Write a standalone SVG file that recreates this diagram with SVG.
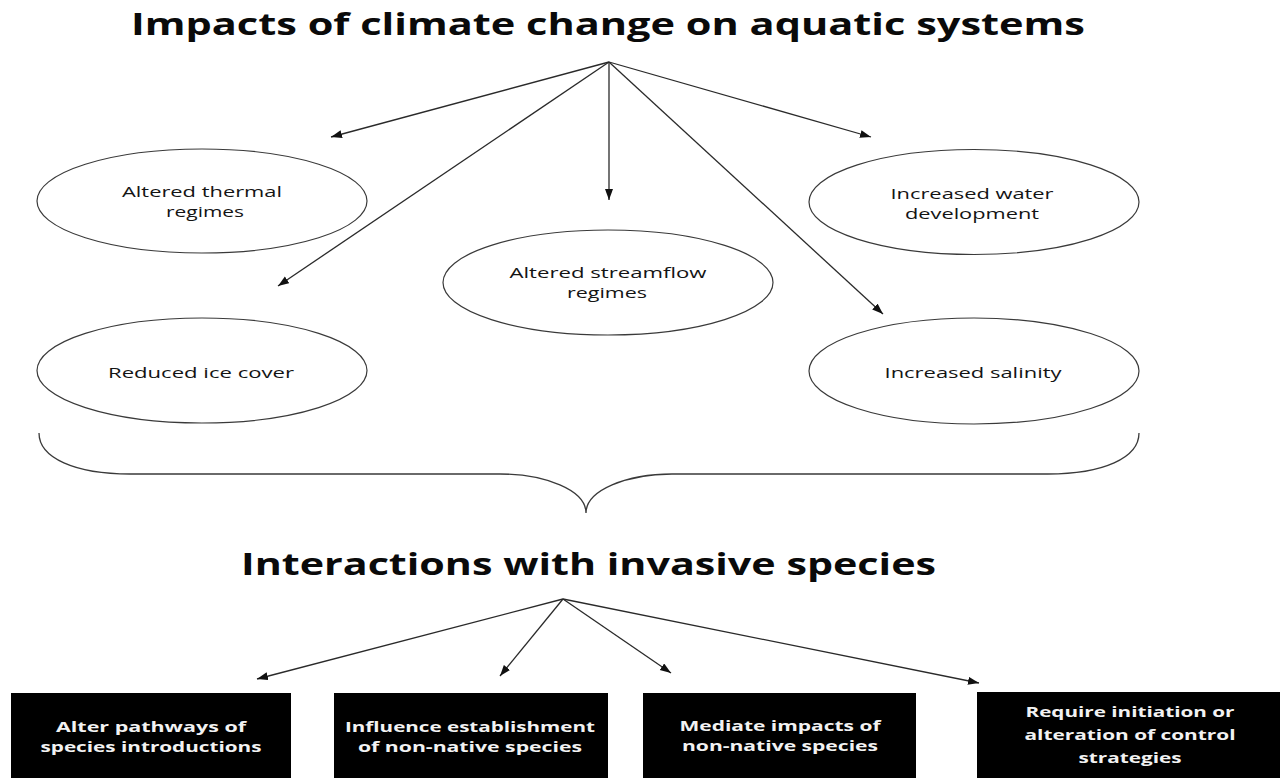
<svg xmlns="http://www.w3.org/2000/svg" width="1280" height="778" viewBox="0 0 1280 778">
<defs>
<style>
.title{font-family:"Open Sans","Liberation Sans",sans-serif;font-weight:bold;font-size:31px;fill:#0a0a0a}
.lbl{font-family:"Open Sans","DejaVu Sans",sans-serif;font-size:15px;fill:#141414;text-anchor:middle}
.blbl{font-family:"Open Sans","Liberation Sans",sans-serif;font-weight:bold;font-size:14.5px;fill:#f2f2f2;text-anchor:middle}
.ell{fill:#fff;stroke:#3a3a3a;stroke-width:1.2}
.box{fill:#000}
.con{stroke:#2a2a2a;stroke-width:1.3;fill:none;marker-end:url(#ah)}
.brace{stroke:#3a3a3a;stroke-width:1.3;fill:none}
</style>
<marker id="ah" markerUnits="userSpaceOnUse" markerWidth="12" markerHeight="9" refX="11" refY="4" orient="auto">
<path d="M0,0 L11,4 L0,8 z" fill="#111"/>
</marker>
</defs>
<rect width="1280" height="778" fill="#fff"/>

<text id="title1" class="title" x="131" y="35" textLength="954" lengthAdjust="spacingAndGlyphs">Impacts of climate change on aquatic systems</text>

<g id="connectors">
<line class="con" x1="609" y1="62" x2="331" y2="137"/>
<line class="con" x1="609" y1="62" x2="278" y2="286"/>
<line class="con" x1="609" y1="62" x2="609" y2="200"/>
<line class="con" x1="609" y1="62" x2="871" y2="137"/>
<line class="con" x1="609" y1="62" x2="883" y2="314"/>
<line class="con" x1="563" y1="599" x2="257" y2="679"/>
<line class="con" x1="563" y1="599" x2="500" y2="676"/>
<line class="con" x1="563" y1="599" x2="671" y2="673"/>
<line class="con" x1="563" y1="599" x2="979" y2="683"/>
<path class="brace" d="M39 433 C39 458 75 474 130 474 L500 474 C545 474 586 490 586 513 C586 490 627 474 672 474 L1048 474 C1103 474 1139 458 1139 433"/>
</g>

<g id="thermal">
<ellipse class="ell" cx="202" cy="201" rx="165" ry="52"/>
<text class="lbl" x="202" y="197" textLength="160" lengthAdjust="spacingAndGlyphs">Altered thermal</text>
<text class="lbl" x="205" y="217" textLength="78" lengthAdjust="spacingAndGlyphs">regimes</text>
</g>

<g id="water">
<ellipse class="ell" cx="974" cy="202" rx="165" ry="52.5"/>
<text class="lbl" x="972" y="199" textLength="163" lengthAdjust="spacingAndGlyphs">Increased water</text>
<text class="lbl" x="972" y="219" textLength="134" lengthAdjust="spacingAndGlyphs">development</text>
</g>

<g id="streamflow">
<ellipse class="ell" cx="608" cy="282.5" rx="165" ry="52.5"/>
<text class="lbl" x="608" y="278" textLength="197" lengthAdjust="spacingAndGlyphs">Altered streamflow</text>
<text class="lbl" x="607" y="298" textLength="80" lengthAdjust="spacingAndGlyphs">regimes</text>
</g>

<g id="ice">
<ellipse class="ell" cx="202" cy="370.5" rx="165" ry="52.5"/>
<text class="lbl" x="201" y="378" textLength="186" lengthAdjust="spacingAndGlyphs">Reduced ice cover</text>
</g>

<g id="salinity">
<ellipse class="ell" cx="974" cy="371" rx="165" ry="53"/>
<text class="lbl" x="973" y="378" textLength="177" lengthAdjust="spacingAndGlyphs">Increased salinity</text>
</g>

<text id="title2" class="title" x="241" y="575" textLength="695" lengthAdjust="spacingAndGlyphs">Interactions with invasive species</text>

<g id="pathways">
<rect class="box" x="11" y="693" width="280" height="90"/>
<text class="blbl" x="151" y="732" textLength="190" lengthAdjust="spacingAndGlyphs">Alter pathways of</text>
<text class="blbl" x="151" y="752" textLength="221" lengthAdjust="spacingAndGlyphs">species introductions</text>
</g>

<g id="establishment">
<rect class="box" x="334" y="693" width="274" height="90"/>
<text class="blbl" x="470" y="732" textLength="250" lengthAdjust="spacingAndGlyphs">Influence establishment</text>
<text class="blbl" x="470" y="752" textLength="224" lengthAdjust="spacingAndGlyphs">of non-native species</text>
</g>

<g id="mediate">
<rect class="box" x="643" y="693" width="273" height="90"/>
<text class="blbl" x="780" y="731" textLength="201" lengthAdjust="spacingAndGlyphs">Mediate impacts of</text>
<text class="blbl" x="780" y="751" textLength="196" lengthAdjust="spacingAndGlyphs">non-native species</text>
</g>

<g id="control">
<rect class="box" x="977" y="692" width="310" height="90"/>
<text class="blbl" x="1130" y="717" textLength="209" lengthAdjust="spacingAndGlyphs">Require initiation or</text>
<text class="blbl" x="1130" y="740" textLength="211" lengthAdjust="spacingAndGlyphs">alteration of control</text>
<text class="blbl" x="1130" y="763" textLength="103" lengthAdjust="spacingAndGlyphs">strategies</text>
</g>
</svg>
